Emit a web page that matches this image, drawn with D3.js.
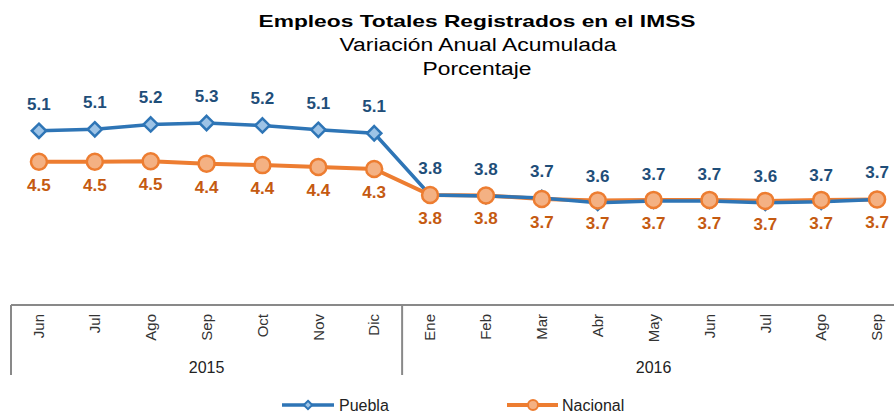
<!DOCTYPE html>
<html>
<head>
<meta charset="utf-8">
<script src="https://cdn.jsdelivr.net/npm/d3@7"></script>
<style>
  body { margin: 0; background: #fff; }
  #chart { width: 894px; height: 413px; }
  text { font-family: "Liberation Sans", Arial, sans-serif; }
</style>
</head>
<body>
<div id="chart"></div>
<script>
// Datos
const meses = ['Jun', 'Jul', 'Ago', 'Sep', 'Oct', 'Nov', 'Dic', 'Ene', 'Feb', 'Mar', 'Abr', 'May', 'Jun', 'Jul', 'Ago', 'Sep'];
const anios = ['2015', '2016'];
const mesesPorAnio = [7, 9];
const puebla = [5.11, 5.14, 5.24, 5.27, 5.22, 5.13, 5.06, 3.80, 3.78, 3.74, 3.64, 3.68, 3.68, 3.64, 3.66, 3.71];
const nacional = [4.48, 4.48, 4.49, 4.44, 4.41, 4.37, 4.33, 3.80, 3.79, 3.72, 3.69, 3.70, 3.70, 3.68, 3.70, 3.71];

function renderEmpleos() {
  const totalWidth = 894;
  const totalHeight = 413;
  const margin = { left: 11 };
  const axisY = 305;

  const svg = d3.select('#chart')
    .append('svg')
    .attr('width', totalWidth)
    .attr('height', totalHeight);

  // Títulos
  svg.append('text')
    .attr('x', 477)
    .attr('y', 27)
    .attr('text-anchor', 'middle')
    .style('font-size', '17px')
    .style('font-weight', 'bold')
    .attr('textLength', 437)
    .attr('lengthAdjust', 'spacingAndGlyphs')
    .text('Empleos Totales Registrados en el IMSS');

  svg.append('text')
    .attr('x', 478)
    .attr('y', 51)
    .attr('text-anchor', 'middle')
    .style('font-size', '18px')
    .attr('textLength', 277)
    .attr('lengthAdjust', 'spacingAndGlyphs')
    .text('Variación Anual Acumulada');

  svg.append('text')
    .attr('x', 477)
    .attr('y', 75)
    .attr('text-anchor', 'middle')
    .style('font-size', '18px')
    .attr('textLength', 109)
    .attr('lengthAdjust', 'spacingAndGlyphs')
    .text('Porcentaje');

  const g = svg.append('g')
    .attr('transform', `translate(${margin.left},0)`);

  // Escalas
  const x = d3.scaleBand()
    .domain(d3.range(meses.length))
    .range([0, 894]);

  const y = d3.scaleLinear()
    .domain([3, 5.5])
    .range([234.2, 111.7]);

  const cx = i => x(i) + x.bandwidth() / 2;

  // Eje X
  const axis = g.append('g')
    .attr('transform', `translate(0,${axisY})`)
    .call(d3.axisBottom(x).tickSize(0).tickFormat(i => meses[i]));

  axis.select('.domain').remove();
  axis.selectAll('text')
    .attr('transform', 'rotate(-90)')
    .attr('x', -9)
    .attr('y', 0)
    .attr('dy', '0.35em')
    .style('text-anchor', 'end')
    .style('font-size', '15px')
    .style('font-family', '"Liberation Sans", Arial, sans-serif')
    .style('fill', '#333');

  g.append('line')
    .attr('x1', 0)
    .attr('x2', 894)
    .attr('y1', axisY)
    .attr('y2', axisY)
    .attr('stroke', '#898989')
    .attr('stroke-width', 2);

  // Separadores y etiquetas de año
  let inicio = 0;
  const limites = [0];
  anios.forEach((anio, k) => {
    const fin = inicio + mesesPorAnio[k];
    const x0 = x(inicio);
    const x1 = x(fin - 1) + x.bandwidth();
    limites.push(x1);
    g.append('text')
      .attr('x', (x0 + x1) / 2)
      .attr('y', 373)
      .attr('text-anchor', 'middle')
      .style('font-size', '16px')
      .style('fill', '#222')
      .text(anio);
    inicio = fin;
  });

  g.selectAll('.sep')
    .data(limites)
    .enter()
    .append('line')
    .attr('class', 'sep')
    .attr('x1', d => d)
    .attr('x2', d => d)
    .attr('y1', axisY)
    .attr('y2', 375)
    .attr('stroke', '#898989')
    .attr('stroke-width', 2);

  const linea = d3.line()
    .x((d, i) => cx(i))
    .y(d => y(d));

  // Serie Nacional
  g.append('path')
    .datum(nacional)
    .attr('fill', 'none')
    .attr('stroke', '#ED7D31')
    .attr('stroke-width', 4)
    .attr('d', linea);

  // Serie Puebla
  g.append('path')
    .datum(puebla)
    .attr('fill', 'none')
    .attr('stroke', '#2E75B6')
    .attr('stroke-width', 3.5)
    .attr('d', linea);

  g.selectAll('.diamante')
    .data(puebla)
    .enter()
    .append('path')
    .attr('class', 'diamante')
    .attr('d', d3.symbol(d3.symbolDiamond2, 130))
    .attr('transform', (d, i) => `translate(${cx(i)},${y(d)})`)
    .attr('fill', '#9DC3E6')
    .attr('stroke', '#2E75B6')
    .attr('stroke-width', 2.5);

  g.selectAll('.circulo')
    .data(nacional)
    .enter()
    .append('circle')
    .attr('class', 'circulo')
    .attr('cx', (d, i) => cx(i))
    .attr('cy', d => y(d))
    .attr('r', 8)
    .attr('fill', '#F4B183')
    .attr('stroke', '#ED7D31')
    .attr('stroke-width', 2.5);

  // Etiquetas de valores
  g.selectAll('.lbl-puebla')
    .data(puebla)
    .enter()
    .append('text')
    .attr('class', 'lbl-puebla')
    .attr('x', (d, i) => cx(i))
    .attr('y', d => y(d) - 27)
    .attr('dy', '0.35em')
    .attr('text-anchor', 'middle')
    .style('font-size', '17px')
    .style('font-weight', 'bold')
    .style('fill', '#1F4E79')
    .text(d => d.toFixed(1));

  g.selectAll('.lbl-nacional')
    .data(nacional)
    .enter()
    .append('text')
    .attr('class', 'lbl-nacional')
    .attr('x', (d, i) => cx(i))
    .attr('y', d => y(d) + 23)
    .attr('dy', '0.35em')
    .attr('text-anchor', 'middle')
    .style('font-size', '17px')
    .style('font-weight', 'bold')
    .style('fill', '#C55A11')
    .text(d => d.toFixed(1));

  // Leyenda
  const legend = svg.append('g')
    .attr('transform', 'translate(282,405)');

  legend.append('line')
    .attr('x1', 0).attr('x2', 52)
    .attr('stroke', '#2E75B6')
    .attr('stroke-width', 3.5);
  legend.append('path')
    .attr('d', d3.symbol(d3.symbolDiamond2, 45))
    .attr('transform', 'translate(26,0)')
    .attr('fill', '#9DC3E6')
    .attr('stroke', '#2E75B6')
    .attr('stroke-width', 2);
  legend.append('text')
    .attr('x', 57)
    .attr('dy', '0.35em')
    .style('font-size', '16px')
    .style('fill', '#222')
    .text('Puebla');

  legend.append('line')
    .attr('x1', 225).attr('x2', 276)
    .attr('stroke', '#ED7D31')
    .attr('stroke-width', 4);
  legend.append('circle')
    .attr('cx', 251)
    .attr('r', 5)
    .attr('fill', '#F4B183')
    .attr('stroke', '#ED7D31')
    .attr('stroke-width', 2);
  legend.append('text')
    .attr('x', 280)
    .attr('dy', '0.35em')
    .style('font-size', '16px')
    .style('fill', '#222')
    .text('Nacional');
}

renderEmpleos();
</script>
</body>
</html>
